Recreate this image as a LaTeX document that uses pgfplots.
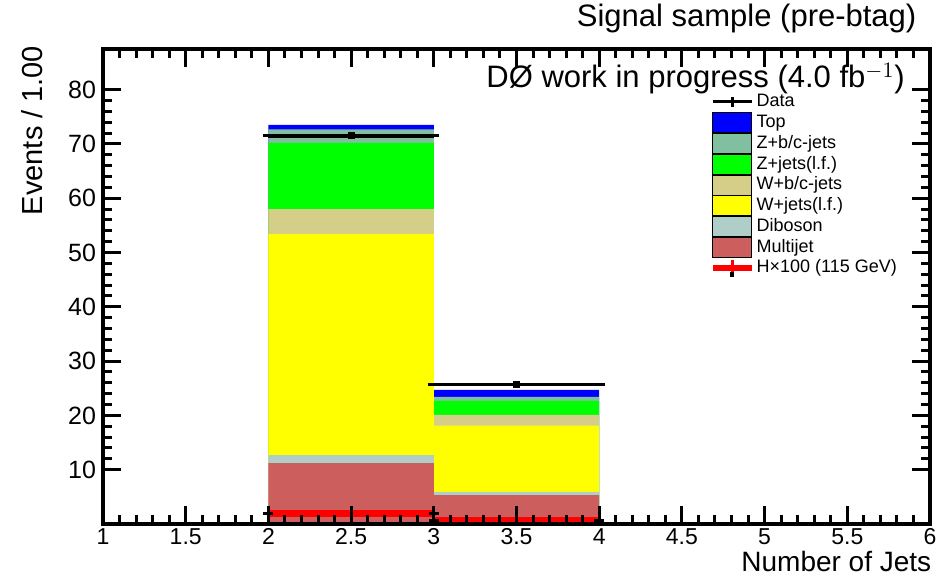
\documentclass[border=0pt]{standalone}
\usepackage{fontspec}
\setmainfont{Liberation Sans}
\usepackage{pgfplots}
\pgfplotsset{compat=1.18}
\definecolor{cTop}{RGB}{0,0,255}
\definecolor{cZbc}{RGB}{128,192,160}
\definecolor{cZlf}{RGB}{0,255,0}
\definecolor{cWbc}{RGB}{212,206,136}
\definecolor{cWlf}{RGB}{255,255,0}
\definecolor{cDib}{RGB}{176,206,200}
\definecolor{cMJ}{RGB}{205,94,94}
\definecolor{cH}{RGB}{255,0,0}
\pgfplotsset{
  boxleg/.style={legend image code/.code={\fill[##1] (0pt,-5pt) rectangle (19.5pt,5pt);}},
  stk/.style={ybar, bar width=1, bar shift=0pt, draw=none, fill=#1, forget plot},
}
\begin{document}
\begin{tikzpicture}
\useasboundingbox (-51.5pt,-26pt) rectangle (416.5pt,262pt);
\begin{axis}[
  at={(0,0)}, anchor=south west,
  scale only axis, width=413.5pt, height=237.5pt,
  xmin=1, xmax=6, ymin=0, ymax=87.5,
  xtick={1,1.5,2,2.5,3,3.5,4,4.5,5,5.5,6},
  xticklabels={1,1.5,2,2.5,3,3.5,4,4.5,5,5.5,6},
  ytick={10,20,30,40,50,60,70,80},
  yticklabels={10,20,30,40,50,60,70,80},
  minor x tick num=4, minor y tick num=4,
  tick align=inside,
  major tick length=9pt, minor tick length=4.5pt,
  axis line style={line width=2pt},
  tick style={line width=1.5pt, black},
  axis on top,
  ticklabel style={font=\fontsize{12.5}{12.5}\selectfont},
  x tick label style={inner ysep=0.5pt, yshift=-1.5pt, font=\fontsize{11.5}{11.5}\selectfont},
  /pgf/number format/assume math mode=true,
  scaled ticks=false,
  xlabel={Number of Jets},
  ylabel={Events / 1.00},
  every axis x label/.style={at={(axis description cs:1.002,-0.078)}, anchor=east, inner sep=0pt, font=\fontsize{14}{14}\selectfont},
  every axis y label/.style={at={(axis description cs:-0.0859,1.0074)}, rotate=90, anchor=east, inner sep=0pt, font=\fontsize{14.5}{15}\selectfont},
  title={Signal sample (pre-btag)},
  title style={at={(axis description cs:0.984,1.039)}, anchor=east, inner sep=0pt, font=\fontsize{15.5}{16}\selectfont},
  legend style={at={(rel axis cs:0.733,0.911)}, anchor=north west, draw=none, fill=none,
    inner sep=0pt, row sep=0pt, font=\fontsize{9}{9}\selectfont,
    nodes={inner xsep=1pt, inner ysep=0pt, text height=7.6pt, text depth=2.65pt}},
  legend cell align=left,
]
\addlegendimage{legend image code/.code={\draw[black,line width=1.5pt] (0pt,0pt)--(19.5pt,0pt); \draw[black,line width=1.5pt] (9.75pt,-2.5pt)--(9.75pt,2.5pt);}}
\addlegendentry{Data}
\addlegendimage{boxleg, fill=cTop}
\addlegendentry{Top}
\addlegendimage{boxleg, fill=cZbc}
\addlegendentry{Z+b/c-jets}
\addlegendimage{boxleg, fill=cZlf}
\addlegendentry{Z+jets(l.f.)}
\addlegendimage{boxleg, fill=cWbc}
\addlegendentry{W+b/c-jets}
\addlegendimage{boxleg, fill=cWlf}
\addlegendentry{W+jets(l.f.)}
\addlegendimage{boxleg, fill=cDib}
\addlegendentry{Diboson}
\addlegendimage{boxleg, fill=cMJ}
\addlegendentry{Multijet}
\addlegendimage{legend image code/.code={\draw[cH,line width=3pt] (0pt,0pt)--(19.5pt,0pt); \draw[cH,line width=1.5pt] (9.75pt,-4pt)--(9.75pt,4pt); \fill[black] (9pt,-4pt) rectangle (10.5pt,-2pt);}}
\addlegendentry{H×100 (115 GeV)}

% cumulative stack tops (bins 2-3 and 3-4)
\addplot[stk=cTop] coordinates {(2.5,73.5) (3.5,24.7)};
\addplot[stk=cZbc] coordinates {(2.5,72.7) (3.5,23.4)};
\addplot[stk=cZlf] coordinates {(2.5,70.2) (3.5,22.7)};
\addplot[stk=cWbc] coordinates {(2.5,58.0) (3.5,20.1)};
\addplot[stk=cWlf] coordinates {(2.5,53.4) (3.5,18.1)};
\addplot[stk=cDib] coordinates {(2.5,12.7) (3.5,5.9)};
\addplot[stk=cMJ] coordinates {(2.5,11.2) (3.5,5.3)};

% Higgs x100
\addplot[forget plot, only marks, mark=|, mark size=2pt, mark options={black, line width=1.5pt},
  error bars/.cd, x dir=both, x explicit,
  error bar style={cH, line width=3.5pt},
  error mark options={black, line width=1.5pt, mark size=2.5pt}]
  coordinates {(2.5,1.9) +- (0.5,0) (3.5,0.7) +- (0.5,0)};

% Data
\addplot[forget plot, only marks, mark=square*, mark size=1.5pt, mark options={black},
  error bars/.cd, x dir=both, x explicit,
  error bar style={black, line width=1.8pt},
  error mark options={black, line width=1.5pt, mark size=2.75pt}]
  coordinates {(2.5,71.5) +- (0.5,0) (3.5,25.7) +- (0.5,0)};

\node[anchor=east, inner sep=0pt, font=\fontsize{15.5}{16}\selectfont] at (rel axis cs:0.97,0.938) {DØ work in progress (4.0 fb$^{-1}$)};
\node[anchor=south west, inner sep=0pt, font=\fontsize{11}{11}\selectfont] at (rel axis cs:-0.002,1.0074) {×10\textsuperscript{3}};
\end{axis}
\end{tikzpicture}
\end{document}
